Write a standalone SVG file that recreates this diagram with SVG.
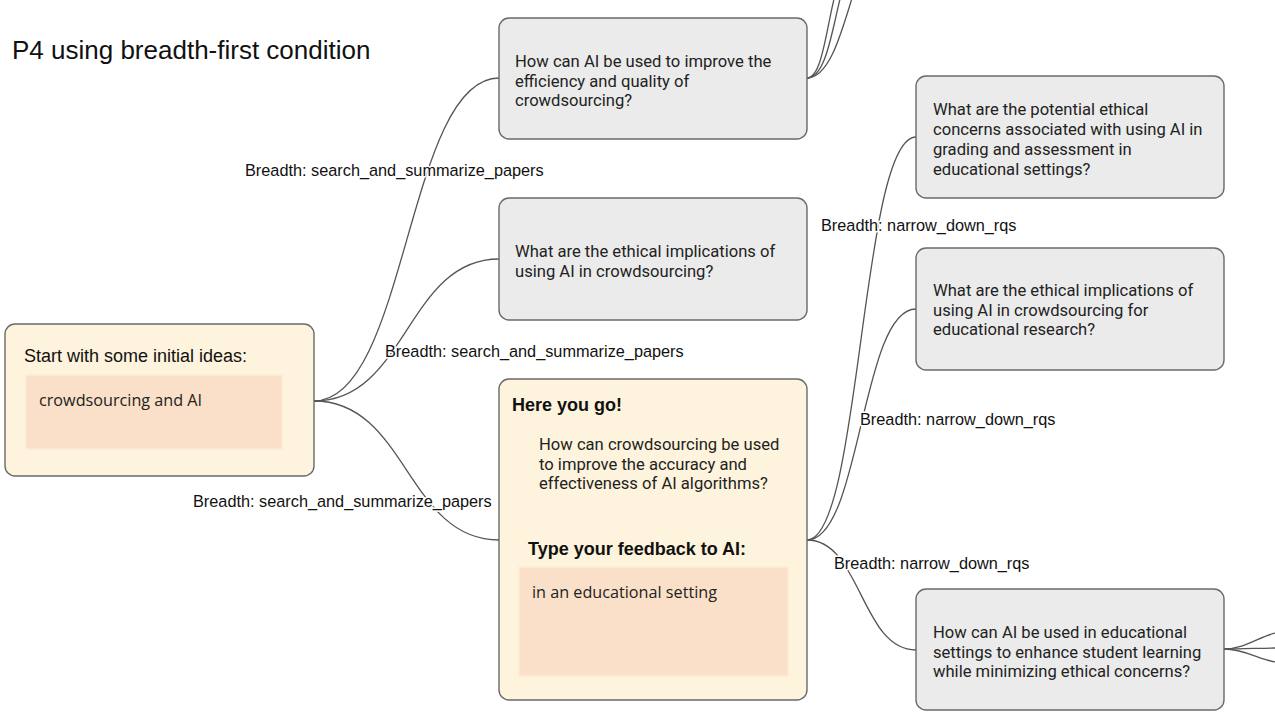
<svg xmlns="http://www.w3.org/2000/svg" width="1275" height="713" viewBox="0 0 1275 713">
<defs>
<style>
.bg{fill:#ffffff}
.grey{fill:#ebebeb;stroke:#6a6a6a;stroke-width:1.4}
.yel{fill:#fef3dc;stroke:#6a6a6a;stroke-width:1.4}
.inner{fill:#fae0c8;stroke:#fdebd6;stroke-width:1.5}
.q{font-family:Roboto,"Liberation Sans",sans-serif;font-size:16.6px;fill:#222}
.lbl{font-family:"Liberation Sans",Arial,sans-serif;font-size:16.3px;fill:#111;stroke:#fff;stroke-width:3;paint-order:stroke;stroke-linejoin:round}
.hd{font-family:"Liberation Sans",Arial,sans-serif;font-size:18px;fill:#111}
.bold{font-family:"Liberation Sans",Arial,sans-serif;font-size:18px;font-weight:bold;fill:#111}
.inp{font-family:"Open Sans","Noto Sans",sans-serif;font-size:16.2px;fill:#222}
.title{font-family:"Liberation Sans",Arial,sans-serif;font-size:26px;fill:#111}
.c{fill:none;stroke:#555;stroke-width:1.3}
</style>
</defs>
<rect class="bg" x="0" y="0" width="1275" height="713"/>
<text class="title" x="12" y="59">P4 using breadth-first condition</text>

<g id="connectors">
<path class="c" d="M314,401 C407,401 407,78 499,78"/>
<path class="c" d="M314,401 C407,401 407,259 499,259"/>
<path class="c" d="M314,401 C407,401 407,540 499,540"/>
<path class="c" d="M807,540 C861,540 861,137 916,137"/>
<path class="c" d="M807,540 C861,540 861,309 916,309"/>
<path class="c" d="M807,540 C861,540 861,650 916,650"/>
<path class="c" d="M807,78 C822,78 826,30 835,-5"/>
<path class="c" d="M807,78 C826,78 832,30 841,-5"/>
<path class="c" d="M807,78 C830,78 842,30 853,-5"/>
<path class="c" d="M1224,649 C1245,649 1260,636 1276,633"/>
<path class="c" d="M1224,649 C1245,649 1260,648 1276,648"/>
<path class="c" d="M1224,649 C1245,649 1260,660 1276,662"/>
<text class="lbl" x="245" y="176">Breadth: search_and_summarize_papers</text>
<text class="lbl" x="385" y="357">Breadth: search_and_summarize_papers</text>
<text class="lbl" x="193" y="507">Breadth: search_and_summarize_papers</text>
<text class="lbl" x="821" y="231">Breadth: narrow_down_rqs</text>
<text class="lbl" x="860" y="425">Breadth: narrow_down_rqs</text>
<text class="lbl" x="834" y="569">Breadth: narrow_down_rqs</text>
</g>

<g id="start">
<rect class="yel" x="5" y="324" width="309" height="152" rx="10"/>
<text class="hd" x="24" y="362">Start with some initial ideas:</text>
<rect class="inner" x="26" y="375" width="256" height="74"/>
<text class="inp" x="39" y="406">crowdsourcing and AI</text>
</g>

<g id="nodeA">
<rect class="grey" x="499" y="18" width="308" height="121" rx="10"/>
<text class="q" x="515" y="67">How can AI be used to improve the</text>
<text class="q" x="515" y="87">efficiency and quality of</text>
<text class="q" x="515" y="106">crowdsourcing?</text>
</g>

<g id="nodeB">
<rect class="grey" x="499" y="198" width="308" height="122" rx="10"/>
<text class="q" x="515" y="257">What are the ethical implications of</text>
<text class="q" x="515" y="277">using AI in crowdsourcing?</text>
</g>

<g id="nodeC">
<rect class="yel" x="499" y="379" width="308" height="321" rx="10"/>
<text class="bold" x="512" y="411">Here you go!</text>
<text class="q" x="539" y="450">How can crowdsourcing be used</text>
<text class="q" x="539" y="470">to improve the accuracy and</text>
<text class="q" x="539" y="489">effectiveness of AI algorithms?</text>
<text class="bold" x="528" y="555">Type your feedback to AI:</text>
<rect class="inner" x="519" y="567" width="269" height="109"/>
<text class="inp" x="532" y="598">in an educational setting</text>
</g>

<g id="nodeD">
<rect class="grey" x="916" y="76" width="308" height="122" rx="10"/>
<text class="q" x="933" y="115">What are the potential ethical</text>
<text class="q" x="933" y="135">concerns associated with using AI in</text>
<text class="q" x="933" y="155">grading and assessment in</text>
<text class="q" x="933" y="175">educational settings?</text>
</g>

<g id="nodeE">
<rect class="grey" x="916" y="248" width="308" height="122" rx="10"/>
<text class="q" x="933" y="296">What are the ethical implications of</text>
<text class="q" x="933" y="316">using AI in crowdsourcing for</text>
<text class="q" x="933" y="335">educational research?</text>
</g>

<g id="nodeF">
<rect class="grey" x="916" y="589" width="308" height="121" rx="10"/>
<text class="q" x="933" y="638">How can AI be used in educational</text>
<text class="q" x="933" y="658">settings to enhance student learning</text>
<text class="q" x="933" y="677">while minimizing ethical concerns?</text>
</g>
</svg>
